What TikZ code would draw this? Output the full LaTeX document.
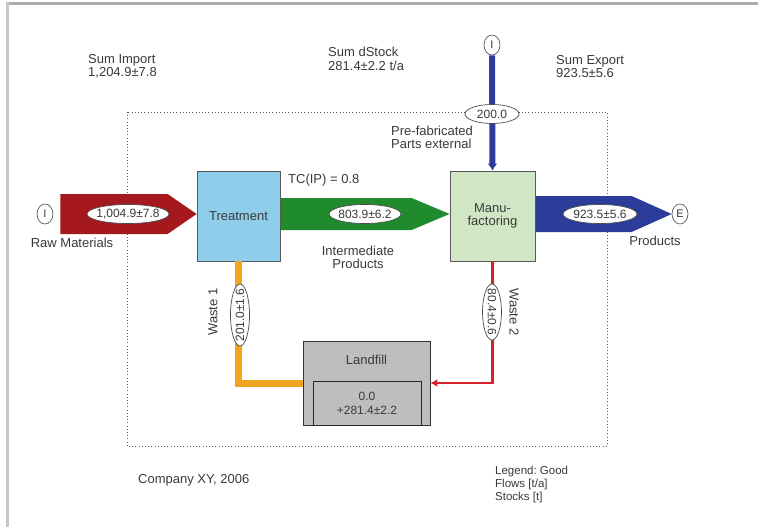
\documentclass[tikz,border=0pt]{standalone}
\usepackage{fontspec}
\setmainfont{Liberation Sans}
\usetikzlibrary{calc,arrows.meta,shapes.geometric}
\frenchspacing

\definecolor{txt}{HTML}{3A3A3A}
\definecolor{rawred}{HTML}{A5191E}
\definecolor{midgreen}{HTML}{1F8B2D}
\definecolor{prodblue}{HTML}{2B3C9B}
\definecolor{treatfill}{HTML}{8ECEEB}
\definecolor{manufill}{HTML}{D0E6C5}
\definecolor{landfill}{HTML}{BEBEBE}
\definecolor{wasteorange}{HTML}{F0A520}
\definecolor{wastered}{HTML}{D8222A}

\tikzset{
  every node/.style={text=txt, font=\fontsize{13}{13.5}\selectfont},
  plain/.style={inner sep=0pt, align=left},
  process/.style={draw=gray!70!black, line width=0.8pt, minimum width=83pt, minimum height=90pt, align=center},
  endpoint/.style={ellipse, draw=gray!70!black, fill=white, line width=0.7pt, minimum width=16pt, minimum height=20pt, inner sep=0pt, font=\fontsize{11}{12}\selectfont},
  oval/.style={draw=gray!60!black, fill=white, line width=0.7pt},
  ovaltext/.style={inner sep=0pt, font=\fontsize{12}{12}\selectfont},
}

\begin{document}
\begin{tikzpicture}[x=1pt,y=-1pt]
\useasboundingbox (0,0) rectangle (758,527);
\fill[white] (0,0) rectangle (758,527);
% window frame
\fill[gray!65] (7,2) rectangle (758,5);
\fill[gray!45] (6,2) rectangle (8.5,527);

% system boundary
\draw[gray!70!black, line width=0.8pt, dash pattern=on 1pt off 2.2pt] (127,112) rectangle (607,446);

% processes
\node[process, fill=treatfill] (treat) at (238.5,216) {Treatment};
\node[process, fill=manufill, minimum width=85pt] (manu) at (492.5,216) {Manu-\\factoring};
\node[draw=gray!40!black, line width=0.8pt, fill=landfill, minimum width=127pt, minimum height=84pt] (land) at (366.5,383) {};
\node[plain] (landname) at (366.5,360) {Landfill};
\node[draw=gray!30!black, line width=0.9pt, fill=landfill, minimum width=108pt, minimum height=44pt, align=center, inner sep=0pt,
      font=\fontsize{12}{14}\selectfont] (stock) at (367,403) {0.0\\+281.4±2.2};

% end points
\node[endpoint] (inI) at (45,214) {I};
\node[endpoint] (topI) at (492,45) {I};
\node[endpoint] (outE) at (680,214) {E};

% tips of the horizontal flows, on the flow axis
\coordinate (tipT) at (treat.west |- inI.east);
\coordinate (tipM) at (manu.west |- inI.east);
\coordinate (srcT) at (treat.east |- inI.east);
\coordinate (srcM) at (manu.east |- inI.east);

% raw material import
\fill[rawred] ($(inI.east)+(7,-20)$) -- ($(tipT)+(-29,-20)$) -- (tipT)
  -- ($(tipT)+(-29,20)$) -- ($(inI.east)+(7,20)$) -- cycle;
% intermediate products
\fill[midgreen] ($(srcT)+(0.5,-16)$) -- ($(tipM)+(-38,-16)$) -- (tipM)
  -- ($(tipM)+(-38,16)$) -- ($(srcT)+(0.5,16)$) -- cycle;
% products export
\fill[prodblue] ($(srcM)+(0.5,-18)$) -- ($(outE.west)+(-40,-18)$) -- (outE.west)
  -- ($(outE.west)+(-40,18)$) -- ($(srcM)+(0.5,18)$) -- cycle;
% pre-fabricated parts
\draw[prodblue, line width=6pt, -{Latex[length=7pt,width=10pt]}] (topI.south) -- (manu.north);
% wastes
\draw[wasteorange, line width=7pt] (treat.south) |- (land.west);
\draw[wastered, line width=2.5pt, -{Latex[length=7pt,width=8pt]}] (manu.south) |- (land.east);

% flow values
\coordinate (v1) at (128,214);
\coordinate (v2) at (365,214);
\coordinate (v3) at (600,214);
\coordinate (v4) at (492,114);
\coordinate (v5) at (240,315);
\coordinate (v6) at (492,312);
\draw[oval] (v1) ellipse [x radius=41, y radius=9.5];
\draw[oval] (v2) ellipse [x radius=36, y radius=9.5];
\draw[oval] (v3) ellipse [x radius=37, y radius=9.5];
\draw[oval] (v4) ellipse [x radius=27, y radius=9.5];
\draw[oval] (v5) ellipse [x radius=9.5, y radius=31];
\draw[oval] (v6) ellipse [x radius=9.5, y radius=28];
\node[ovaltext] (f1) at (v1) {1,004.9±7.8};
\node[ovaltext] (f2) at (v2) {803.9±6.2};
\node[ovaltext] (f3) at (v3) {923.5±5.6};
\node[ovaltext] (f4) at (v4) {200.0};
\node[ovaltext, rotate=90] (f5) at (v5) {201.0±1.6};
\node[ovaltext, rotate=-90] (f6) at (v6) {80.4±0.6};

% flow names
\node[plain] (rawname) at (72,243) {Raw Materials};
\node[plain, align=center] (midname) at (358,257.5) {Intermediate\\Products};
\node[plain] (prodname) at (655,241) {Products};
\node[plain, anchor=west] (prefab) at (391,137.5) {Pre-fabricated\\Parts external};
\node[plain, rotate=90] (w1name) at (213,312) {Waste 1};
\node[plain, rotate=-90] (w2name) at (514,312) {Waste 2};
\node[plain, anchor=west] (tc) at (288,180) {TC(IP) = 0.8};

% balances
\node[plain, anchor=west] (simp) at (88,66.5) {Sum Import\\1,204.9±7.8};
\node[plain, anchor=west] (sstock) at (328,59) {Sum dStock\\281.4±2.2 t/a};
\node[plain, anchor=west] (sexp) at (556,66.5) {Sum Export\\923.5±5.6};

% footer
\node[plain, anchor=west] (company) at (138,480) {Company XY, 2006};
\node[plain, anchor=west, font=\fontsize{11.5}{13}\selectfont] (legend) at (495,485) {Legend: Good\\Flows [t/a]\\Stocks [t]};
\end{tikzpicture}
\end{document}
